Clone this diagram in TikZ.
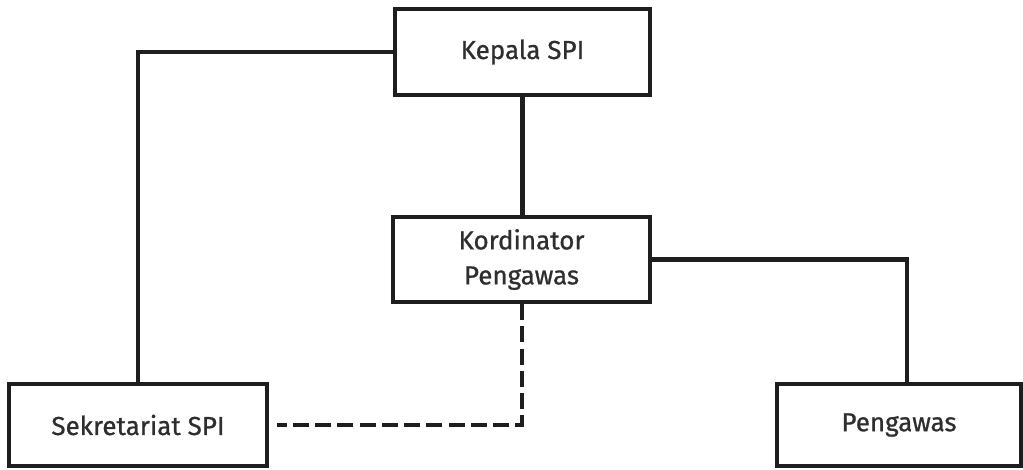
\documentclass[tikz,border=0pt]{standalone}
\usepackage{fontspec}
\setmainfont{Fira Sans}
\newfontfamily\boxfont{Fira Sans}[FakeBold=0.8]
\definecolor{linec}{HTML}{1E1E1E}
\definecolor{textc}{HTML}{2E2E2E}
\begin{document}
\begin{tikzpicture}[x=1pt,y=-1pt,
  box/.style={draw=linec, line width=4pt, fill=white, text=textc,
    font=\boxfont\fontsize{26}{35}\selectfont, align=center, inner sep=0pt},
  conn/.style={draw=linec, line width=4.5pt},
  dconn/.style={draw=linec, line width=4pt, dash pattern=on 16pt off 6.25pt}]
\useasboundingbox (0,0) rectangle (1023,469);
\fill[white] (0,0) rectangle (1023,469);
\node[box, minimum width=255pt, minimum height=86pt] (kepala) at (522.5,52) {Kepala SPI};
\node[box, minimum width=257pt, minimum height=85pt] (kord) at (521.5,259.5) {Kordinator\\Pengawas};
\node[box, minimum width=258pt, minimum height=82pt] (sek) at (138,425) {Sekretariat SPI};
\node[box, minimum width=244pt, minimum height=82pt] (peng) at (899,425) {Pengawas};
\coordinate (pengtop) at ([xshift=8pt]peng.north);
\coordinate (sekend) at ([xshift=8pt]sek.east);
\draw[conn] (kepala.west) -| (sek.north);
\draw[conn] (kepala.south) -- (kepala.south |- kord.north);
\draw[conn] (kord.east) -| (pengtop);
\draw[dconn] (kord.south) |- (sekend);
\end{tikzpicture}
\end{document}
